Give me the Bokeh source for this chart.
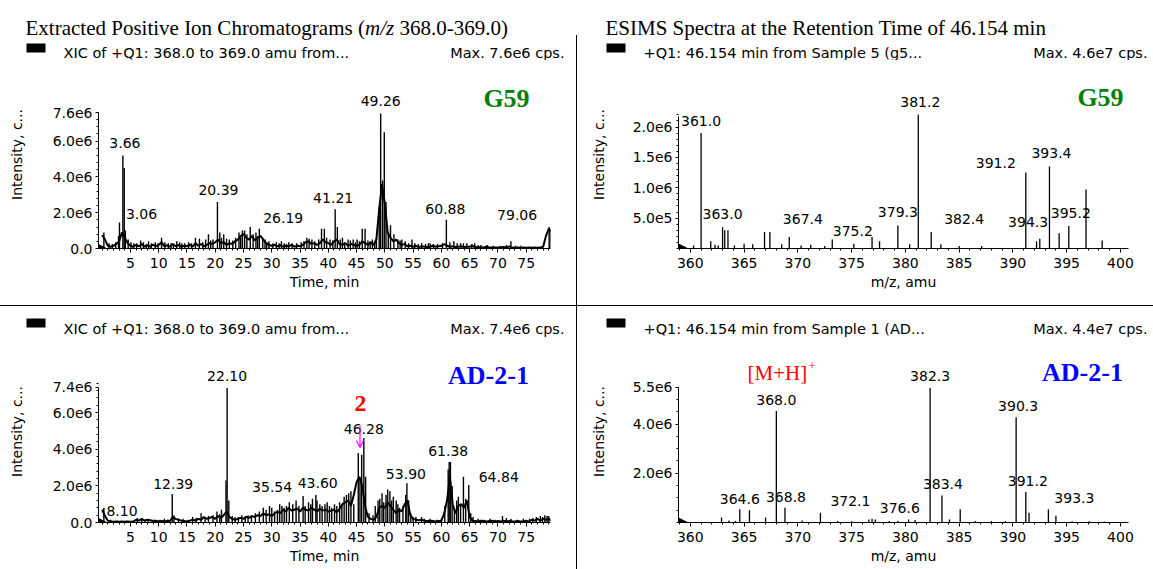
import numpy as np
from bokeh.plotting import figure
from bokeh.models import (Label, FixedTicker, Arrow, NormalHead, OpenHead, Div,
                          ColumnDataSource, Range1d)
from bokeh.layouts import row, column
from bokeh.embed import file_html
from bokeh.resources import INLINE
from bokeh.core.properties import value

M = 1e6  # values below are in units of 1e6 cps

# ---------------------------------------------------------------- data
xic_step = 0.5  # baseline sampling interval (min), starting at 0.0

# G59 XIC (m/z 368.0-369.0) baseline, every 0.5 min
g59_xic_base = [
    0.75, 0.5, 0.15, 0.1, 0.15, 0.25, 0.4, 0.9, 0.6, 0.3,
    0.15, 0.1, 0.2, 0.12, 0.25, 0.1, 0.18, 0.1, 0.22, 0.12,
    0.2, 0.35, 0.12, 0.18, 0.1, 0.25, 0.12, 0.2, 0.1, 0.15,
    0.12, 0.22, 0.1, 0.3, 0.15, 0.25, 0.12, 0.2, 0.3, 0.25,
    0.35, 0.5, 0.3, 0.35, 0.2, 0.3, 0.25, 0.4, 0.5, 0.7,
    0.8, 0.6, 0.5, 0.7, 0.45, 0.6, 0.7, 0.5, 0.3, 0.2,
    0.15, 0.2, 0.12, 0.18, 0.1, 0.15, 0.12, 0.2, 0.1, 0.15,
    0.12, 0.2, 0.35, 0.4, 0.25, 0.3, 0.2, 0.3, 0.5, 0.35,
    0.3, 0.2, 0.4, 0.5, 0.25, 0.2, 0.3, 0.15, 0.25, 0.2,
    0.15, 0.2, 0.4, 0.3, 0.2, 0.35, 0.2, 0.5, 2.2, 3.6,
    2.5, 0.9, 0.6, 0.4, 0.5, 0.3, 0.2, 0.25, 0.12, 0.15,
    0.1, 0.15, 0.08, 0.12, 0.1, 0.08, 0.1, 0.15, 0.1, 0.12,
    0.15, 0.25, 0.15, 0.1, 0.12, 0.08, 0.1, 0.12, 0.08, 0.1,
    0.1, 0.15, 0.06, 0.08, 0.05, 0.06, 0.1, 0.05, 0.06, 0.05,
    0.06, 0.05, 0.08, 0.05, 0.12, 0.05, 0.04, 0.05, 0.04, 0.05,
    0.04, 0.05, 0.04, 0.05, 0.04, 0.05, 0.1, 0.7, 1.1, 0.95,
]
g59_spike_t = [0.3, 1.2, 1.8, 2.4, 2.9, 3.06, 3.66, 3.9, 4.1, 4.6, 5.1, 5.6, 6.1, 6.8, 7.3,
               7.8, 8.2, 8.7, 9.4, 9.9, 10.5, 11.1, 11.7, 12.2, 12.6, 13.2, 13.7, 14.1,
               14.6, 15.3, 15.8, 16.5, 17.2, 17.8, 18.3, 18.8, 19.2, 19.6, 20.39, 20.8,
               21.1, 21.5, 22.0, 22.5, 23.1, 23.6, 24.2, 24.5, 24.8, 25.2, 25.6, 26.19,
               26.7, 27.2, 27.5, 27.8, 28.4, 28.8, 29.1, 29.5, 30.2, 30.8, 31.3, 31.7,
               32.2, 32.6, 33.0, 33.6, 34.4, 35.2, 35.7, 36.2, 36.6, 37.1, 37.6, 38.3,
               38.8, 39.3, 39.7, 40.3, 40.8, 41.21, 41.6, 42.1, 42.5, 42.9, 43.5, 43.9,
               44.4, 44.8, 45.1, 45.5, 46.0, 46.5, 47.0, 47.4, 47.8, 48.2, 48.5, 49.0,
               49.26, 49.6, 49.9, 50.2, 50.6, 51.0, 51.6, 52.3, 52.7, 53.0, 53.6, 54.2,
               54.8, 55.3, 55.9, 56.5, 57.2, 57.7, 58.0, 58.6, 59.3, 60.2, 60.88, 61.5,
               62.2, 62.8, 63.4, 63.9, 64.5, 65.4, 65.9, 66.5, 67.0, 68.1, 69.2, 70.4,
               71.5, 72.3, 73.1, 74.0, 79.06, 79.25]
g59_spike_h = [0.9, 0.3, 0.25, 0.35, 0.7, 1.45, 5.2, 4.5, 1.0, 0.5, 0.35, 0.3, 0.3, 0.45, 0.35,
               0.25, 0.4, 0.3, 0.35, 0.3, 0.6, 0.35, 0.3, 0.3, 0.25, 0.4, 0.35, 0.3,
               0.3, 0.35, 0.3, 0.6, 0.55, 0.35, 0.5, 0.8, 0.45, 0.5, 2.6, 0.9,
               0.6, 0.8, 0.55, 0.5, 0.45, 0.6, 0.9, 0.7, 1.0, 1.0, 0.8, 1.2,
               0.8, 0.9, 0.7, 1.1, 0.6, 0.5, 0.35, 0.4, 0.3, 0.35, 0.3, 0.4,
               0.3, 0.25, 0.35, 0.3, 0.3, 0.35, 0.4, 0.6, 0.55, 0.5, 0.4, 0.5,
               1.1, 1.1, 0.6, 0.5, 0.45, 2.2, 1.2, 0.5, 0.6, 0.35, 0.5, 0.45,
               0.5, 0.35, 0.5, 0.4, 1.1, 1.1, 0.45, 0.4, 0.5, 0.4, 0.6, 2.3,
               7.55, 3.8, 6.5, 2.6, 0.9, 1.3, 0.8, 0.5, 0.45, 0.5, 0.4, 0.3,
               0.5, 0.3, 0.25, 0.3, 0.25, 0.3, 0.3, 0.25, 0.25, 0.3, 1.6, 0.35,
               0.4, 0.3, 0.3, 0.3, 0.3, 0.25, 0.3, 0.2, 0.2, 0.2, 0.15, 0.15,
               0.2, 0.4, 0.15, 0.15, 1.2, 1.05]
g59_lbl_t = [3.66, 3.06, 20.39, 26.19, 41.21, 49.26, 60.88, 79.06]
g59_lbl_h = [5.2, 1.45, 2.6, 1.2, 2.2, 7.55, 1.6, 1.2]

# AD-2-1 XIC (m/z 368.0-369.0) baseline, every 0.5 min
ad_xic_base = [
    0.7, 0.35, 0.1, 0.05, 0.04, 0.05, 0.04, 0.05, 0.04, 0.05,
    0.04, 0.05, 0.15, 0.1, 0.2, 0.1, 0.15, 0.12, 0.08, 0.1,
    0.06, 0.08, 0.05, 0.1, 0.08, 0.3, 0.2, 0.15, 0.1, 0.08,
    0.06, 0.1, 0.15, 0.1, 0.2, 0.15, 0.3, 0.2, 0.25, 0.3,
    0.2, 0.35, 0.25, 0.4, 0.6, 0.3, 0.2, 0.15, 0.2, 0.25,
    0.2, 0.3, 0.25, 0.35, 0.3, 0.4, 0.35, 0.5, 0.4, 0.45,
    0.35, 0.5, 0.6, 0.5, 0.7, 0.6, 0.8, 0.65, 0.7, 0.75,
    0.6, 0.8, 0.7, 0.65, 0.8, 0.7, 0.6, 0.75, 0.65, 0.7,
    0.6, 0.65, 0.7, 0.55, 0.75, 1.0, 1.1, 1.2, 0.9, 1.5,
    2.2, 2.5, 2.0, 0.9, 0.3, 0.2, 0.15, 0.3, 0.8, 0.9,
    0.8, 1.1, 0.9, 0.7, 0.5, 0.7, 0.6, 1.0, 1.2, 0.4,
    0.2, 0.15, 0.12, 0.15, 0.1, 0.08, 0.1, 0.08, 0.06, 0.08,
    0.1, 0.5, 1.2, 2.5, 1.0, 0.5, 0.9, 1.0, 0.8, 1.2,
    0.3, 0.1, 0.08, 0.06, 0.1, 0.08, 0.06, 0.08, 0.1, 0.06,
    0.08, 0.05, 0.1, 0.06, 0.08, 0.05, 0.06, 0.08, 0.05, 0.06,
    0.1, 0.05, 0.15, 0.1, 0.2, 0.1, 0.2, 0.15, 0.2, 0.1,
]
ad_spike_t = [0.3, 1.5, 2.6, 4.2, 5.3, 6.2, 7.0, 7.6, 8.1, 9.1, 10.2, 11.0, 11.6, 12.39,
              12.7, 13.5, 14.3, 15.2, 16.0, 16.6, 17.5, 18.2, 18.8, 19.6, 20.3, 20.8,
              21.1, 21.9, 22.1, 22.4, 23.0, 23.5, 24.1, 24.7, 25.3, 25.8, 26.4, 27.1,
              27.8, 28.5, 29.0, 29.6, 30.0, 30.5, 31.0, 31.4, 31.8, 32.2, 32.6, 33.1,
              33.7, 34.3, 34.8, 35.54, 35.9, 36.5, 36.9, 37.2, 37.8, 38.0, 38.5, 38.9,
              39.4, 39.8, 40.2, 40.6, 41.1, 41.5, 42.0, 42.4, 42.8, 43.2, 43.6, 44.0,
              44.5, 45.3, 45.6, 45.9, 46.28, 46.6, 47.2, 47.9, 48.3, 48.8, 49.1, 49.5,
              49.8, 50.2, 50.5, 50.9, 51.2, 51.5, 52.0, 52.3, 52.6, 53.2, 53.7, 53.9,
              54.2, 54.6, 55.0, 55.5, 56.5, 57.0, 58.0, 59.2, 60.0, 60.6, 61.2, 61.38,
              61.6, 61.9, 62.3, 62.7, 63.0, 63.4, 63.9, 64.3, 64.84, 65.2, 65.6, 66.5,
              67.5, 68.6, 69.5, 70.8, 71.5, 72.3, 73.4, 74.5, 75.6, 76.2, 76.8, 77.5,
              77.9, 78.3, 78.7, 79.0]
ad_spike_h = [0.8, 0.15, 0.1, 0.1, 0.1, 0.25, 0.2, 0.15, 0.15, 0.15, 0.15, 0.2, 0.15, 1.55,
              0.4, 0.2, 0.2, 0.15, 0.3, 0.25, 0.5, 0.3, 0.35, 0.4, 0.6, 0.45,
              0.7, 2.3, 7.35, 1.2, 0.35, 0.3, 0.3, 0.4, 0.35, 0.4, 0.4, 0.5,
              0.6, 0.8, 0.7, 0.9, 0.8, 0.6, 0.7, 1.0, 0.9, 0.8, 0.9, 1.1,
              1.0, 1.2, 0.9, 1.45, 0.9, 1.1, 1.0, 1.3, 1.5, 1.2, 1.0, 0.9,
              1.0, 1.1, 0.9, 0.8, 1.0, 0.9, 1.1, 1.0, 1.4, 1.5, 1.6, 1.7,
              1.0, 3.8, 2.4, 3.7, 4.6, 2.5, 0.5, 0.4, 0.9, 1.2, 1.3, 1.6,
              1.1, 1.5, 1.8, 1.7, 1.2, 1.4, 1.2, 1.0, 0.8, 0.9, 1.5, 2.15,
              1.2, 0.5, 0.3, 0.3, 0.3, 0.2, 0.2, 0.15, 0.2, 0.9, 2.9, 3.3,
              3.3, 2.0, 0.8, 1.2, 1.4, 1.0, 2.5, 1.3, 2.05, 0.5, 0.3, 0.2,
              0.15, 0.2, 0.15, 0.35, 0.25, 0.2, 0.15, 0.2, 0.2, 0.25, 0.3, 0.35,
              0.3, 0.4, 0.35, 0.35]
ad_lbl_t = [8.10, 12.39, 22.10, 35.54, 43.60, 46.28, 53.90, 61.38, 64.84]
ad_lbl_h = [0.15, 1.55, 7.35, 1.45, 1.6, 4.6, 2.15, 3.3, 2.05]

# ESIMS spectrum at 46.154 min, G59
g59_ms_mz = [360.3, 361.0, 361.9, 362.3, 362.6, 363.0, 363.2, 363.5, 364.1, 365.0, 365.8,
             366.9, 367.4, 368.5, 369.2, 370.3, 371.2, 372.5, 373.2, 375.2, 376.9, 377.6,
             379.3, 380.4, 381.2, 382.4, 383.3, 385.0, 387.1, 391.2, 392.2, 392.5, 393.4,
             394.3, 395.2, 396.8, 398.3]
g59_ms_h = [0.05, 1.9, 0.12, 0.06, 0.05, 0.35, 0.3, 0.3, 0.05, 0.08, 0.07,
            0.27, 0.27, 0.07, 0.19, 0.05, 0.06, 0.04, 0.15, 0.08, 0.19, 0.12,
            0.38, 0.07, 2.2, 0.27, 0.07, 0.04, 0.04, 1.25, 0.12, 0.16, 1.35,
            0.25, 0.37, 0.97, 0.13]
g59_ms_lbl = [361.0, 363.0, 367.4, 375.2, 379.3, 381.2, 382.4, 391.2, 393.4, 394.3, 395.2]
g59_ms_lbl_h = [1.9, 0.35, 0.27, 0.08, 0.38, 2.2, 0.27, 1.25, 1.35, 0.25, 0.37]

# ESIMS spectrum at 46.154 min, AD-2-1
ad_ms_mz = [362.9, 363.6, 364.2, 364.6, 365.5, 367.0, 368.0, 368.8, 370.4, 372.1, 373.7,
            375.0, 376.6, 376.9, 377.2, 378.5, 379.3, 380.3, 380.9, 382.3, 383.4, 384.1,
            385.1, 386.5, 388.0, 389.3, 390.3, 391.2, 391.5, 393.3, 394.0, 395.5, 397.1,
            398.5]
ad_ms_h = [0.2, 0.08, 0.06, 0.54, 0.5, 0.2, 4.53, 0.6, 0.08, 0.4, 0.06,
           0.05, 0.12, 0.15, 0.12, 0.06, 0.06, 0.12, 0.1, 5.47, 1.1, 0.12,
           0.54, 0.06, 0.06, 0.06, 4.28, 1.24, 0.4, 0.54, 0.27, 0.05, 0.05,
           0.04]
ad_ms_lbl = [364.6, 368.0, 368.8, 372.1, 376.6, 382.3, 383.4, 390.3, 391.2, 393.3]
ad_ms_lbl_h = [0.54, 4.53, 0.6, 0.4, 0.12, 5.47, 1.1, 4.28, 1.24, 0.54]

# tick labels
tl_yticks = [0, 2e6, 4e6, 6e6, 7.6e6]
tl_ylabels = ["0.0", "2.0e6", "4.0e6", "6.0e6", "7.6e6"]
bl_yticks = [0, 2e6, 4e6, 6e6, 7.4e6]
bl_ylabels = ["0.0", "2.0e6", "4.0e6", "6.0e6", "7.4e6"]
tr_yticks = [5e5, 1e6, 1.5e6, 2e6]
tr_ylabels = ["5.0e5", "1.0e6", "1.5e6", "2.0e6"]
br_yticks = [2e6, 4e6, 5.5e6]
br_ylabels = ["2.0e6", "4.0e6", "5.5e6"]
xic_xticks = list(range(5, 80, 5))
ms_xticks = list(range(360, 401, 5))

# arrow marking compound 2
arrow_t, arrow_top, arrow_tip = 45.6, 5.3, 4.1

# ---------------------------------------------------------------- styles
FONT = "DejaVu Sans"
SERIF = "Liberation Serif"
FS = "14px"
HFS = "14.5px"
g59_lbl_dx = [2, 22, 1, 33, -2, 0, -1, -32]
g59_lbl_dy = [-12, -9, -11.5, -9.5, -11.5, -12, -10.5, -12.5]
ad_lbl_dx = [-26, 1, 0, -31, -31, 0, -1, -1, 30]
ad_lbl_dy = [-9, -10, -11.5, -8.5, -10, -9, -9.5, -11.5, -7.5]
g59_ms_dx = [0, 0, 33, -1, 0, 2, 33, -30, 2, -31, 2]
g59_ms_dy = [-12.5, -13.5, -13.5, -13, -13, -12.5, -13.5, -10, -13, -11, -13.5]
ad_ms_dx = [0, 0, 1, 30, 31, 0, 1, 2, 2, 26]
ad_ms_dy = [-10.5, -11.5, -10.5, -11.5, -11.5, -11.5, -11.5, -11, -11, -11.5]

PW = 576
XIC_RANGE = (-0.65, 79.3)
MS_RANGE = (358.9, 400.75)
TITLE_SZ = 21


def make_fig(h, xr, yr, border):
    left, right, top, bottom = border
    p = figure(width=PW, height=h, x_range=Range1d(*xr), y_range=Range1d(*yr),
               output_backend="svg", toolbar_location=None, tools="",
               min_border_left=left, min_border_right=right,
               min_border_top=top, min_border_bottom=bottom)
    p.frame_align = False
    p.grid.visible = False
    p.outline_line_color = None
    p.background_fill_color = "white"
    p.border_fill_color = "white"
    for ax in (p.xaxis[0], p.yaxis[0]):
        ax.axis_line_color = "black"
        ax.major_tick_line_color = "black"
        ax.minor_tick_line_color = "black"
        ax.major_tick_in = 0
        ax.minor_tick_in = 0
        ax.minor_tick_out = 2
        ax.major_label_text_font = FONT
        ax.major_label_text_font_size = FS
        ax.major_label_text_color = "black"
        ax.axis_label_text_font = FONT
        ax.axis_label_text_font_size = FS
        ax.axis_label_text_font_style = "normal"
        ax.axis_label_text_color = "black"
    p.xaxis.major_tick_out = 4
    p.xaxis.major_label_standoff = 5
    p.xaxis.axis_label_standoff = 3
    p.yaxis.major_tick_out = 3
    p.yaxis.major_label_standoff = 3
    p.yaxis.axis_label = "Intensity, c..."
    return p


def lab(p, x, y, text, size=FS, font=FONT, color="black", style="normal",
        align="left", baseline="middle"):
    # screen position relative to the plot frame's bottom-left corner
    p.add_layout(Label(x=x, y=y, x_units="screen", y_units="screen", text=text,
                       text_font=font, text_font_size=size, text_color=color,
                       text_font_style=style, text_align=align, text_baseline=baseline))


def header_fig(h, title, sq_y, txt_y, left_x, left_text, max_x, max_text, italic_title=False):
    """Strip above a panel: title line + 'XIC/+Q1' header line (local pixel coords)."""
    p = figure(width=PW, height=h, x_range=Range1d(0, PW), y_range=Range1d(h, 0),
               output_backend="svg", toolbar_location=None, tools="",
               x_axis_type=None, y_axis_type=None,
               min_border_left=0, min_border_right=0, min_border_top=0, min_border_bottom=0)
    p.frame_align = False
    p.grid.visible = False
    p.outline_line_color = None
    p.background_fill_color = "white"
    p.border_fill_color = "white"
    tsz = "%dpx" % TITLE_SZ
    if title is not None:
        tx = left_x
        if italic_title:
            parts = [("Extracted Positive Ion Chromatograms (", "normal", 16.165),
                     ("m/z", "italic", 1.389 + 0.25), ("368.0-369.0)", "normal", 0)]
        else:
            parts = [(title, "normal", 0)]
        for txt, sty, w in parts:
            p.text(x=[tx], y=[27], text=[txt], text_font=value(SERIF), text_font_size=tsz,
                   text_font_style=sty, text_baseline="alphabetic", text_align="left",
                   text_color="black")
            tx += w * TITLE_SZ
    p.quad(left=[left_x + 1], right=[left_x + 20], top=[sq_y], bottom=[sq_y + 9],
           fill_color="black", line_color=None)
    p.text(x=[left_x + 38], y=[txt_y], text=[left_text], text_font=value(FONT),
           text_font_size=HFS, text_baseline="middle", text_align="left", text_color="black")
    p.text(x=[max_x], y=[txt_y], text=[max_text], text_font=value(FONT),
           text_font_size=HFS, text_baseline="middle", text_align="right", text_color="black")
    return p


def origin_marker(p, x0, tip_px, ppu):
    xe = x0 + tip_px / ppu
    p.add_layout(Arrow(end=NormalHead(size=12, fill_color="black", line_color="black"),
                       x_start=xe - 0.01, y_start=0, x_end=xe, y_end=0,
                       line_color="black", line_alpha=0.0))


def xic_panel(h, border, yend, base, sp_t, sp_h, lt, lh, dx, dy, yticks, ylabels, ymax):
    p = make_fig(h, XIC_RANGE, (0, yend), border)
    t = [i * xic_step for i in range(len(base))]
    p.line(t, [v * M for v in base], line_color="black", line_width=2.0)
    p.segment(x0=sp_t, y0=[0] * len(sp_t), x1=sp_t, y1=[v * M for v in sp_h],
              line_color="black", line_width=1.4)
    src = ColumnDataSource(dict(x=lt, y=[v * M for v in lh], text=["%.2f" % v for v in lt],
                                dx=dx, dy=dy))
    p.text(x="x", y="y", text="text", x_offset="dx", y_offset="dy", source=src,
           text_align="center", text_baseline="middle", text_font=value(FONT),
           text_font_size=FS, text_color="black")
    p.xaxis.ticker = FixedTicker(ticks=xic_xticks, minor_ticks=list(range(0, 80)))
    p.xaxis.axis_label = "Time, min"
    p.yaxis.ticker = FixedTicker(ticks=yticks, minor_ticks=[i * 0.4e6 for i in range(20)])
    p.yaxis.major_label_overrides = {int(k): v for k, v in zip(yticks, ylabels)}
    p.yaxis.bounds = (0, ymax)
    p.yaxis.axis_label_standoff = 25
    origin_marker(p, XIC_RANGE[0], 8, 5.654)
    return p


def ms_panel(h, border, yend, mz, hh, lm, lh, dx, dy, yticks, ylabels, ymax, minor_step):
    p = make_fig(h, MS_RANGE, (0, yend), border)
    p.segment(x0=mz, y0=[0] * len(mz), x1=mz, y1=[v * M for v in hh],
              line_color="black", line_width=1.3)
    src = ColumnDataSource(dict(x=lm, y=[v * M for v in lh], text=["%.1f" % v for v in lm],
                                dx=dx, dy=dy))
    p.text(x="x", y="y", text="text", x_offset="dx", y_offset="dy", source=src,
           text_align="center", text_baseline="middle", text_font=value(FONT),
           text_font_size=FS, text_color="black")
    p.xaxis.ticker = FixedTicker(ticks=ms_xticks, minor_ticks=list(range(359, 401)))
    p.xaxis.axis_label = "m/z, amu"
    nmin = int(round(ymax / minor_step)) + 1
    p.yaxis.ticker = FixedTicker(ticks=yticks, minor_ticks=[i * minor_step for i in range(nmin)])
    p.yaxis.major_label_overrides = {int(k): v for k, v in zip(yticks, ylabels)}
    p.yaxis.bounds = (0, ymax)
    p.yaxis.axis_label_standoff = 23
    origin_marker(p, MS_RANGE[0], 9, 10.75)
    return p


# ---------------------------------------------------------------- panels
# top-left chart: page frame x 98..550, y 60..248
h1 = header_fig(60, "x", 43, 52, 25, "XIC of +Q1: 368.0 to 369.0 amu from...", 564,
                "Max. 7.6e6 cps.", italic_title=True)
p1 = xic_panel(245, (98, 26, 0, 57), 10.506e6, g59_xic_base, g59_spike_t, g59_spike_h,
               g59_lbl_t, g59_lbl_h, g59_lbl_dx, g59_lbl_dy, tl_yticks, tl_ylabels, 7.6e6)
lab(p1, 506 - 98, 248 - 98, "G59", size="26px", font=SERIF, color="#008000", style="bold",
    align="center")

# top-right chart: page frame x 678..1128, y 60..248
h2 = header_fig(60, "ESIMS Spectra at the Retention Time of 46.154 min", 43, 52, 28,
                "+Q1: 46.154 min from Sample 5 (g5...", 570, "Max. 4.6e7 cps.")
p2 = ms_panel(245, (101, 25, 0, 57), 3.095e6, g59_ms_mz, g59_ms_h, g59_ms_lbl, g59_ms_lbl_h,
              g59_ms_dx, g59_ms_dy, tr_yticks, tr_ylabels, 2.17e6, 1e5)
lab(p2, 1100 - 678, 248 - 97, "G59", size="26px", font=SERIF, color="#008000", style="bold",
    align="center")

# bottom-left chart: page frame x 98..550, y 340..522
h3 = header_fig(34, None, 12, 22, 25, "XIC of +Q1: 368.0 to 369.0 amu from...", 564,
                "Max. 7.4e6 cps.")
p3 = xic_panel(229, (98, 26, 0, 47), 9.94e6, ad_xic_base, ad_spike_t, ad_spike_h,
               ad_lbl_t, ad_lbl_h, ad_lbl_dx, ad_lbl_dy, bl_yticks, bl_ylabels, 7.4e6)
lab(p3, 488 - 98, 522 - 375, "AD-2-1", size="26px", font=SERIF, color="#0000FF", style="bold",
    align="center")
lab(p3, 360 - 98, 522 - 403, "2", size="24px", font=SERIF, color="#FF0000", style="bold",
    align="center")
p3.add_layout(Arrow(end=OpenHead(size=7, line_color="#FF00FF", line_width=1.2),
                    x_start=arrow_t, y_start=arrow_top * M, x_end=arrow_t, y_end=arrow_tip * M,
                    line_color="#FF00FF", line_width=1.2))

# bottom-right chart: page frame x 678..1128, y 340..522
h4 = header_fig(34, None, 12, 22, 28, "+Q1: 46.154 min from Sample 1 (AD...", 570,
                "Max. 4.4e7 cps.")
p4 = ms_panel(229, (101, 25, 0, 47), 7.398e6, ad_ms_mz, ad_ms_h, ad_ms_lbl, ad_ms_lbl_h,
              ad_ms_dx, ad_ms_dy, br_yticks, br_ylabels, 5.5e6, 5e5)
lab(p4, 1082 - 678, 522 - 372, "AD-2-1", size="26px", font=SERIF, color="#0000FF", style="bold",
    align="center")
lab(p4, 747 - 678, 522 - 372, "[M+H]", size="21px", font=SERIF, color="#FF0000")
lab(p4, 808 - 678, 522 - 365, "+", size="13px", font=SERIF, color="#FF0000")

# ---------------------------------------------------------------- layout
BLACK = {"background-color": "black"}


def bar(w, h, black=True):
    return Div(width=w, height=h, margin=0, styles=BLACK if black else {})


top = row(column(h1, p1), column(bar(1, 35, False), bar(1, 270)), column(h2, p2))
bottom = row(column(h3, p3), bar(1, 263), column(h4, p4))
page = column(top, bar(1153, 1), bottom)

open("out.html", "w").write(file_html(page, INLINE))
